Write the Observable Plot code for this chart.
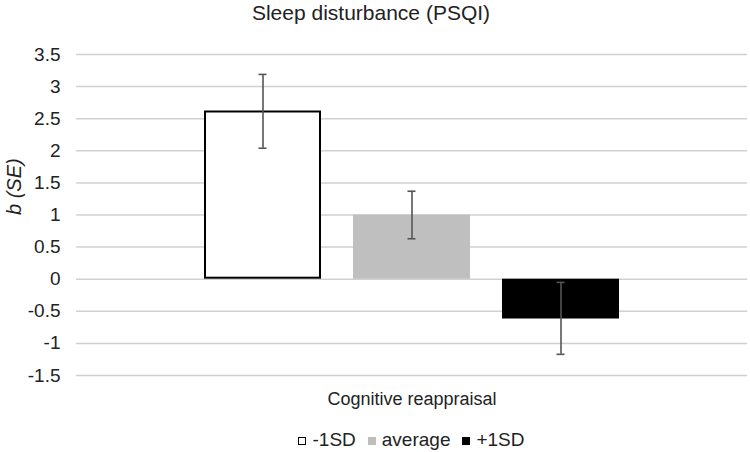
<!DOCTYPE html>
<html>
<head>
<meta charset="utf-8">
<script src="https://cdn.jsdelivr.net/npm/d3@7"></script>
<script src="https://cdn.jsdelivr.net/npm/@observablehq/plot@0.6"></script>
<style>
  html, body { margin: 0; padding: 0; background: #fff; }
  #wrap { position: relative; width: 750px; height: 452px; overflow: hidden; font-family: "Liberation Sans", Arial, sans-serif; color: #222; }
  #title { position: absolute; top: 0; left: 0; width: 742px; text-align: center; font-size: 21px; line-height: 25px; }
  #chart { position: absolute; top: 21px; left: 0; }
  #legend { position: absolute; top: 428px; left: 76px; width: 671px; height: 24px; display: flex; justify-content: center; align-items: center; font-size: 19px; line-height: 24px; }
  .item { display: flex; align-items: center; margin: 0 6px; }
  .sw { width: 8px; height: 8px; margin-right: 6px; box-sizing: border-box; margin-top: 2px; }
</style>
</head>
<body>
<div id="wrap">
  <div id="chart"></div>
  <div id="title"></div>
  <div id="legend"></div>
</div>
<script>
const chartTitle = "Sleep disturbance (PSQI)";
const category = "Cognitive reappraisal";
const yLabel = "b (SE)";
const series = ["-1SD", "average", "+1SD"];
const values = [2.62, 1.0, -0.62];
const lower = [2.04, 0.63, -1.17];
const upper = [3.19, 1.37, -0.05];
const yTicks = [-1.5, -1, -0.5, 0, 0.5, 1, 1.5, 2, 2.5, 3, 3.5];
const colors = ["#ffffff", "#bfbfbf", "#000000"];

const data = series.map((s, i) => ({series: s, value: values[i], lo: lower[i], hi: upper[i]}));

document.getElementById("title").textContent = chartTitle;

const plot = Plot.plot({
  width: 750,
  height: 399,
  marginLeft: 76,
  marginRight: 3,
  marginTop: 33,
  marginBottom: 45,
  style: {fontFamily: "Liberation Sans, Arial, sans-serif", background: "transparent", color: "#222"},
  x: {type: "band", domain: series, paddingInner: 0.216, paddingOuter: 0.855, axis: null},
  y: {domain: [-1.5, 3.5]},
  color: {domain: series, range: colors},
  marks: [
    Plot.gridY(yTicks, {stroke: "#d0d0d0", strokeOpacity: 1, strokeWidth: 1.5}),
    Plot.axisY(yTicks, {tickSize: 0, tickPadding: 16, fontSize: 19, tickFormat: d => String(d), label: null, fill: "#222"}),
    Plot.barY(data, {x: "series", y1: 0, y2: "value", fill: "series"}),
    Plot.barY(data, {x: "series", y1: 0, y2: "value", fill: "none", stroke: "#000", strokeWidth: 2, filter: d => d.series === series[0], inset: 1}),
    Plot.ruleX(data, {x: "series", y1: "lo", y2: "hi", stroke: "#555", strokeWidth: 1.6}),
    Plot.tickY(data, {x: "series", y: "lo", stroke: "#555", strokeWidth: 1.6, insetLeft: 54.5, insetRight: 54.5}),
    Plot.tickY(data, {x: "series", y: "hi", stroke: "#555", strokeWidth: 1.6, insetLeft: 54.5, insetRight: 54.5}),
    Plot.text([category], {text: d => d, frameAnchor: "bottom", dy: 24, lineAnchor: "middle", fontSize: 18, fill: "#222"}),
    Plot.text([yLabel], {text: d => d, frameAnchor: "left", dx: -62, rotate: -90, fontSize: 20, fontStyle: "italic", fill: "#222"})
  ]
});
document.getElementById("chart").appendChild(plot);

const legend = document.getElementById("legend");
series.forEach((s, i) => {
  const item = document.createElement("div");
  item.className = "item";
  const sw = document.createElement("span");
  sw.className = "sw";
  sw.style.background = colors[i];
  if (i === 0) sw.style.border = "1.5px solid #000";
  const label = document.createElement("span");
  label.textContent = s;
  item.appendChild(sw);
  item.appendChild(label);
  legend.appendChild(item);
});
</script>
</body>
</html>
